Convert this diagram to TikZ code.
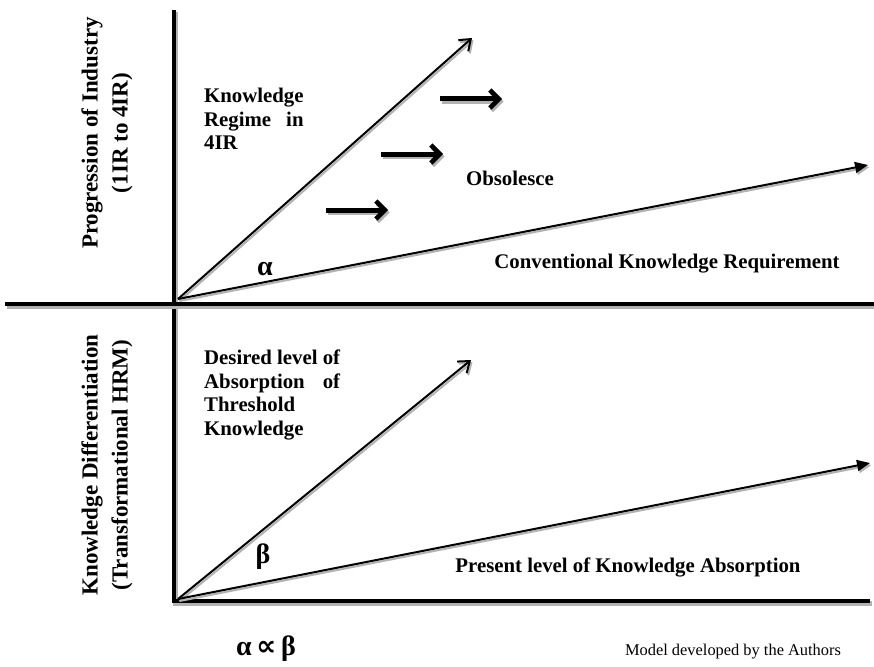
\documentclass[tikz,border=0pt]{standalone}
\usepackage{fontspec}
\setmainfont{Liberation Serif}
\newfontfamily\dejavu{DejaVu Sans}
\usetikzlibrary{arrows.meta}
\newlength\kwA
\newlength\kwB
\newcommand\lblfont{\bfseries\fontsize{20.8}{23.5}\selectfont}
\tikzset{
  axis/.style={line width=4.5pt, preaction={draw=black!30, line width=4.5pt, transform canvas={shift={(1.5pt,-2.5pt)}}}},
  ray/.style={line width=2pt, preaction={draw=black!30, line width=2pt, transform canvas={shift={(1.5pt,-2pt)}}}},
  openhead/.style={-{Straight Barb[length=10pt,width=15pt,line width=2pt]}},
  fillhead/.style={-{Triangle[length=13pt,width=11pt]}},
  fatarrow/.style={line width=5pt, -{Straight Barb[length=9pt,width=18pt,line width=4.5pt]},
    preaction={draw=black!30, line width=5pt, transform canvas={shift={(1.5pt,-2.5pt)}}}},
  lbl/.style={font=\lblfont, inner sep=0pt},
  blk/.style={font=\lblfont, inner sep=0pt, align=left, anchor=north west},
  side/.style={font=\bfseries\fontsize{23}{30}\selectfont, inner sep=0pt, align=center, rotate=90},
  greek/.style={font=\bfseries\fontsize{28}{30}\selectfont, inner sep=0pt}
}
\begin{document}
\settowidth{\kwA}{\lblfont Knowledge}%
\settowidth{\kwB}{\lblfont Desired level of}%
\begin{tikzpicture}[x=1pt,y=-1pt]
\useasboundingbox (0,0) rectangle (874,666);
% coordinates
\coordinate (vtop) at (174,10);
\coordinate (vbot) at (174,603);
\coordinate (mL) at (5,304);
\coordinate (mR) at (874,304);
\coordinate (bL) at (172,601);
\coordinate (bR) at (870,601);
\coordinate (O1) at (178,299);
\coordinate (T1) at (472,38);
\coordinate (S1) at (868,165);
\coordinate (O2) at (178,599);
\coordinate (T2) at (471,360);
\coordinate (S2) at (870,463);
\coordinate (a1s) at (326,210); \coordinate (a1e) at (388,210);
\coordinate (a2s) at (381,154); \coordinate (a2e) at (443,154);
\coordinate (a3s) at (440,99);  \coordinate (a3e) at (502,99);
% axes
\draw[axis] (vtop) -- (vbot);
\draw[axis] (mL) -- (mR);
\draw[axis] (bL) -- (bR);
% rays
\draw[ray, openhead] (O1) -- (T1);
\draw[ray, fillhead] (O1) -- (S1);
\draw[ray, openhead] (O2) -- (T2);
\draw[ray, fillhead] (O2) -- (S2);
% fat arrows
\draw[fatarrow] (a1s) -- (a1e);
\draw[fatarrow] (a2s) -- (a2e);
\draw[fatarrow] (a3s) -- (a3e);
% texts
\node[blk] (kr) at (204,88) {Knowledge\\\makebox[\kwA][s]{Regime\hfill in}\\4IR};
\node[lbl] (obs) at (510,178) {Obsolesce};
\node[lbl] (ckr) at (667,264) {Conventional Knowledge Requirement};
\node[greek] (alpha) at (265,269) {α};
\node[blk] (dl) at (204,350) {Desired level of\\\makebox[\kwB][s]{Absorption\hfill of}\\Threshold\\Knowledge};
\node[lbl] (pl) at (628,567) {Present level of Knowledge Absorption};
\node[greek] (beta) at (263,557) {β};
\node[side] (poi) at (107,133) {Progression of Industry\\(1IR to 4IR)};
\node[side] (kd) at (107,465) {Knowledge Differentiation\\(Transformational HRM)};
\node[greek] (prop) at (266,649) {α{\dejavu\bfseries\,∝\,}β};
\node[font=\fontsize{16.4}{18}\selectfont, inner sep=0pt] (model) at (733,652) {Model developed by the Authors};
\end{tikzpicture}
\end{document}
